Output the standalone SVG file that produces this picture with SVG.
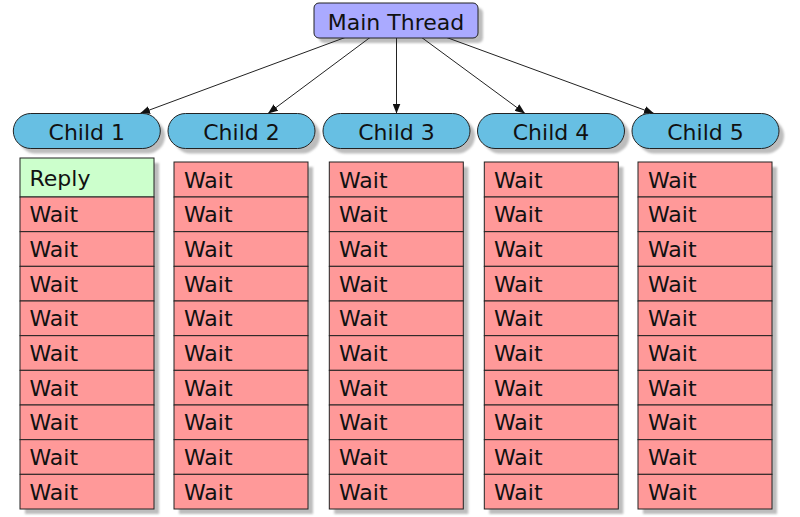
<svg xmlns="http://www.w3.org/2000/svg" width="800" height="517" viewBox="0 0 800 517">
<defs>
<marker id="arr" viewBox="0 0 10 8" refX="10" refY="4" markerWidth="10" markerHeight="8" markerUnits="userSpaceOnUse" orient="auto">
<path d="M0,0 L10,4 L0,8 Z" fill="#111"/>
</marker>
<filter id="blur" x="-10%" y="-10%" width="120%" height="120%"><feGaussianBlur stdDeviation="1"/></filter>
</defs>
<style>
text{font-family:"DejaVu Sans","Liberation Sans",sans-serif;font-size:22px;fill:#111}
.c{text-anchor:middle}
.sh{fill:#bdbdbd;filter:url(#blur)}
.main{fill:#aaaaff;stroke:#222;stroke-width:1}
.pill{fill:#67bfe3;stroke:#222;stroke-width:1}
.wait{fill:#ff9999;stroke:#222;stroke-width:1}
.reply{fill:#ccffcc;stroke:#222;stroke-width:1}
.edge{stroke:#222;stroke-width:1;fill:none;marker-end:url(#arr)}
</style>
<rect width="800" height="517" fill="#fff"/>

<!-- shadows -->
<g id="shadows">
<rect class="sh" x="319" y="8" width="164" height="35" rx="5"/>
<rect class="sh" x="18" y="118.5" width="147" height="35" rx="17.5"/>
<rect class="sh" x="173" y="118.5" width="147" height="35" rx="17.5"/>
<rect class="sh" x="328" y="118.5" width="147" height="35" rx="17.5"/>
<rect class="sh" x="482.5" y="118.5" width="147" height="35" rx="17.5"/>
<rect class="sh" x="637" y="118.5" width="147" height="35" rx="17.5"/>
<rect class="sh" x="25" y="163" width="134" height="351"/>
<rect class="sh" x="179" y="167" width="134" height="347"/>
<rect class="sh" x="334.3" y="167" width="134" height="347"/>
<rect class="sh" x="489.3" y="167" width="134" height="347"/>
<rect class="sh" x="643" y="167" width="134" height="347"/>
</g>

<g id="connectors">
<line class="edge" x1="345" y1="37.5" x2="140" y2="113.5"/>
<line class="edge" x1="370" y1="37.5" x2="268" y2="113.5"/>
<line class="edge" x1="396.5" y1="37.5" x2="396.5" y2="113.5"/>
<line class="edge" x1="421.7" y1="37.5" x2="525" y2="113.5"/>
<line class="edge" x1="446.7" y1="37.5" x2="654" y2="113.5"/>
</g>

<g id="main"><rect class="main" x="314" y="3" width="164" height="35" rx="5"/><text class="c" x="396" y="29.5">Main Thread</text></g>

<g id="child1"><rect class="pill" x="13.3" y="113.5" width="147" height="35" rx="17.5"/><text class="c" x="86.8" y="140">Child 1</text></g>
<g id="child2"><rect class="pill" x="168" y="113.5" width="147" height="35" rx="17.5"/><text class="c" x="241.5" y="140">Child 2</text></g>
<g id="child3"><rect class="pill" x="323" y="113.5" width="147" height="35" rx="17.5"/><text class="c" x="396.5" y="140">Child 3</text></g>
<g id="child4"><rect class="pill" x="477.5" y="113.5" width="147" height="35" rx="17.5"/><text class="c" x="551" y="140">Child 4</text></g>
<g id="child5"><rect class="pill" x="632" y="113.5" width="147" height="35" rx="17.5"/><text class="c" x="705.5" y="140">Child 5</text></g>

<!-- column 1 -->
<g id="c1r0"><rect class="reply" x="20" y="158" width="134" height="39"/><text x="29.5" y="185.5">Reply</text></g>
<g id="c1r1"><rect class="wait" x="20" y="197" width="134" height="34.67"/><text x="29.5" y="222.3">Wait</text></g>
<g id="c1r2"><rect class="wait" x="20" y="231.67" width="134" height="34.67"/><text x="29.5" y="257">Wait</text></g>
<g id="c1r3"><rect class="wait" x="20" y="266.33" width="134" height="34.67"/><text x="29.5" y="291.7">Wait</text></g>
<g id="c1r4"><rect class="wait" x="20" y="301" width="134" height="34.67"/><text x="29.5" y="326.3">Wait</text></g>
<g id="c1r5"><rect class="wait" x="20" y="335.67" width="134" height="34.67"/><text x="29.5" y="361">Wait</text></g>
<g id="c1r6"><rect class="wait" x="20" y="370.33" width="134" height="34.67"/><text x="29.5" y="395.7">Wait</text></g>
<g id="c1r7"><rect class="wait" x="20" y="405" width="134" height="34.67"/><text x="29.5" y="430.3">Wait</text></g>
<g id="c1r8"><rect class="wait" x="20" y="439.67" width="134" height="34.67"/><text x="29.5" y="465">Wait</text></g>
<g id="c1r9"><rect class="wait" x="20" y="474.33" width="134" height="34.67"/><text x="29.5" y="499.7">Wait</text></g>

<!-- column 2 -->
<g id="c2r0"><rect class="wait" x="174" y="162" width="134" height="35"/><text x="184" y="187.5">Wait</text></g>
<g id="c2r1"><rect class="wait" x="174" y="197" width="134" height="34.67"/><text x="184" y="222.3">Wait</text></g>
<g id="c2r2"><rect class="wait" x="174" y="231.67" width="134" height="34.67"/><text x="184" y="257">Wait</text></g>
<g id="c2r3"><rect class="wait" x="174" y="266.33" width="134" height="34.67"/><text x="184" y="291.7">Wait</text></g>
<g id="c2r4"><rect class="wait" x="174" y="301" width="134" height="34.67"/><text x="184" y="326.3">Wait</text></g>
<g id="c2r5"><rect class="wait" x="174" y="335.67" width="134" height="34.67"/><text x="184" y="361">Wait</text></g>
<g id="c2r6"><rect class="wait" x="174" y="370.33" width="134" height="34.67"/><text x="184" y="395.7">Wait</text></g>
<g id="c2r7"><rect class="wait" x="174" y="405" width="134" height="34.67"/><text x="184" y="430.3">Wait</text></g>
<g id="c2r8"><rect class="wait" x="174" y="439.67" width="134" height="34.67"/><text x="184" y="465">Wait</text></g>
<g id="c2r9"><rect class="wait" x="174" y="474.33" width="134" height="34.67"/><text x="184" y="499.7">Wait</text></g>

<!-- column 3 -->
<g id="c3r0"><rect class="wait" x="329.3" y="162" width="134" height="35"/><text x="339" y="187.5">Wait</text></g>
<g id="c3r1"><rect class="wait" x="329.3" y="197" width="134" height="34.67"/><text x="339" y="222.3">Wait</text></g>
<g id="c3r2"><rect class="wait" x="329.3" y="231.67" width="134" height="34.67"/><text x="339" y="257">Wait</text></g>
<g id="c3r3"><rect class="wait" x="329.3" y="266.33" width="134" height="34.67"/><text x="339" y="291.7">Wait</text></g>
<g id="c3r4"><rect class="wait" x="329.3" y="301" width="134" height="34.67"/><text x="339" y="326.3">Wait</text></g>
<g id="c3r5"><rect class="wait" x="329.3" y="335.67" width="134" height="34.67"/><text x="339" y="361">Wait</text></g>
<g id="c3r6"><rect class="wait" x="329.3" y="370.33" width="134" height="34.67"/><text x="339" y="395.7">Wait</text></g>
<g id="c3r7"><rect class="wait" x="329.3" y="405" width="134" height="34.67"/><text x="339" y="430.3">Wait</text></g>
<g id="c3r8"><rect class="wait" x="329.3" y="439.67" width="134" height="34.67"/><text x="339" y="465">Wait</text></g>
<g id="c3r9"><rect class="wait" x="329.3" y="474.33" width="134" height="34.67"/><text x="339" y="499.7">Wait</text></g>

<!-- column 4 -->
<g id="c4r0"><rect class="wait" x="484.3" y="162" width="134" height="35"/><text x="494" y="187.5">Wait</text></g>
<g id="c4r1"><rect class="wait" x="484.3" y="197" width="134" height="34.67"/><text x="494" y="222.3">Wait</text></g>
<g id="c4r2"><rect class="wait" x="484.3" y="231.67" width="134" height="34.67"/><text x="494" y="257">Wait</text></g>
<g id="c4r3"><rect class="wait" x="484.3" y="266.33" width="134" height="34.67"/><text x="494" y="291.7">Wait</text></g>
<g id="c4r4"><rect class="wait" x="484.3" y="301" width="134" height="34.67"/><text x="494" y="326.3">Wait</text></g>
<g id="c4r5"><rect class="wait" x="484.3" y="335.67" width="134" height="34.67"/><text x="494" y="361">Wait</text></g>
<g id="c4r6"><rect class="wait" x="484.3" y="370.33" width="134" height="34.67"/><text x="494" y="395.7">Wait</text></g>
<g id="c4r7"><rect class="wait" x="484.3" y="405" width="134" height="34.67"/><text x="494" y="430.3">Wait</text></g>
<g id="c4r8"><rect class="wait" x="484.3" y="439.67" width="134" height="34.67"/><text x="494" y="465">Wait</text></g>
<g id="c4r9"><rect class="wait" x="484.3" y="474.33" width="134" height="34.67"/><text x="494" y="499.7">Wait</text></g>

<!-- column 5 -->
<g id="c5r0"><rect class="wait" x="638" y="162" width="134" height="35"/><text x="648" y="187.5">Wait</text></g>
<g id="c5r1"><rect class="wait" x="638" y="197" width="134" height="34.67"/><text x="648" y="222.3">Wait</text></g>
<g id="c5r2"><rect class="wait" x="638" y="231.67" width="134" height="34.67"/><text x="648" y="257">Wait</text></g>
<g id="c5r3"><rect class="wait" x="638" y="266.33" width="134" height="34.67"/><text x="648" y="291.7">Wait</text></g>
<g id="c5r4"><rect class="wait" x="638" y="301" width="134" height="34.67"/><text x="648" y="326.3">Wait</text></g>
<g id="c5r5"><rect class="wait" x="638" y="335.67" width="134" height="34.67"/><text x="648" y="361">Wait</text></g>
<g id="c5r6"><rect class="wait" x="638" y="370.33" width="134" height="34.67"/><text x="648" y="395.7">Wait</text></g>
<g id="c5r7"><rect class="wait" x="638" y="405" width="134" height="34.67"/><text x="648" y="430.3">Wait</text></g>
<g id="c5r8"><rect class="wait" x="638" y="439.67" width="134" height="34.67"/><text x="648" y="465">Wait</text></g>
<g id="c5r9"><rect class="wait" x="638" y="474.33" width="134" height="34.67"/><text x="648" y="499.7">Wait</text></g>
</svg>
